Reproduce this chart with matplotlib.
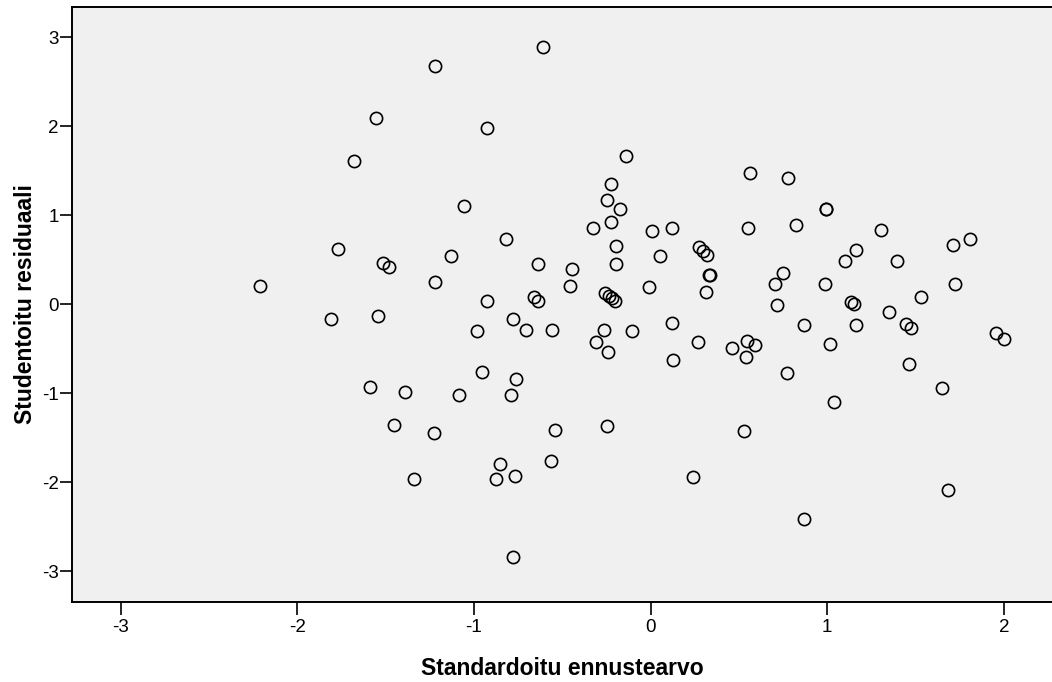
import matplotlib
matplotlib.use("Agg")
import matplotlib.pyplot as plt

# Standardised predicted value (x) and studentised residual (y)
pred = [-1.555, -1.677, -1.768, -1.517, -1.481, -2.209, -1.809, -1.541,
        -1.587, -1.389, -1.455, -1.340,
        -1.222, -0.608, -0.928, -0.142, 0.563, -0.226, -0.249, -0.172,
        -1.055, -0.226, -0.325, 0.007, 0.121, 0.550, -0.821, -0.195,
        -1.130, 0.051, -0.198, -0.640, 0.273, 0.296, 0.320, 0.332, 0.335,
        0.315, -0.444, -0.458, -1.222, -0.928, -0.660, -0.636, -0.259,
        -0.234, -0.217, -0.200, -0.008, -0.781,
        0.775, 0.990, 0.994, 0.822, 1.303, 1.713, 1.809, 1.162, 1.100,
        1.396, 0.749, 0.702, 0.985, 1.724, 1.532, 1.133, 1.152, 0.713,
        1.347,
        0.868, 1.164, 1.443, 1.475, 1.954, 1.998, 0.543, 0.589, 0.539,
        1.017, 0.773, 1.462, 1.649, 1.036, 0.530, 1.683, 0.869,
        -0.983, -0.704, -0.560, -0.264, -0.311, -0.243, -0.108, 0.119,
        0.268, 0.125, 0.460, -0.953, -0.762, -0.792, -1.085, -1.225,
        -0.543, -0.247, -0.851, -0.875, -0.768, -0.562, 0.241, -0.778]
resid = [2.09, 1.61, 0.625, 0.46, 0.416, 0.209, -0.17, -0.13,
         -0.933, -0.99, -1.357, -1.967,
         2.68, 2.889, 1.982, 1.667, 1.476, 1.352, 1.173, 1.068,
         1.105, 0.929, 0.861, 0.82, 0.858, 0.858, 0.731, 0.659,
         0.543, 0.543, 0.457, 0.457, 0.64, 0.60, 0.554, 0.326, 0.33,
         0.138, 0.393, 0.209, 0.254, 0.037, 0.079, 0.037, 0.13,
         0.093, 0.067, 0.04, 0.194, -0.17,
         1.416, 1.071, 1.075, 0.888, 0.832, 0.663, 0.738, 0.61, 0.487,
         0.487, 0.355, 0.225, 0.232, 0.228, 0.079, 0.022, 0.0, -0.008,
         -0.083,
         -0.233, -0.236, -0.221, -0.263, -0.326, -0.393, -0.409, -0.454, -0.596,
         -0.443, -0.769, -0.675, -0.941, -1.102, -1.424, -2.084, -2.414,
         -0.304, -0.289, -0.289, -0.289, -0.427, -0.54, -0.297, -0.207,
         -0.42, -0.63, -0.488, -0.764, -0.836, -1.023, -1.02, -1.45,
         -1.41, -1.365, -1.795, -1.967, -1.927, -1.762, -1.945, -2.841]

xticks = [-3, -2, -1, 0, 1, 2]
yticks = [-3, -2, -1, 0, 1, 2, 3]
xlabel = "Standardoitu ennustearvo"
ylabel = "Studentoitu residuaali"

plt.rcParams['font.family'] = ['Liberation Sans', 'DejaVu Sans']

fig = plt.figure(figsize=(10.52, 6.82), dpi=100)
ax = fig.add_axes([72 / 1052, 80 / 682, 980 / 1052, 595 / 682])
ax.set_facecolor('#f0f0f0')

ax.plot(pred, resid, linestyle='none', marker='o', markersize=8.8,
        markerfacecolor='none', markeredgecolor='black', markeredgewidth=1.2)

ax.set_xlim(-3.275, 2.272)
ax.set_ylim(-3.347, 3.342)
ax.set_xticks(xticks)
ax.set_yticks(yticks)
ax.set_xticklabels([str(t) for t in xticks])
ax.set_yticklabels([str(t) for t in yticks])
ax.tick_params(axis='x', direction='out', length=9, width=1.2, labelsize=13.5,
               colors='black', pad=3.5)
ax.tick_params(axis='y', direction='out', length=8.6, width=1.2, labelsize=13.5,
               colors='black', pad=0.8)

for s in ax.spines.values():
    s.set_linewidth(1.4)
    s.set_color('black')
ax.spines['right'].set_visible(False)

ax.set_xlabel(xlabel, fontsize=16.5, fontweight='bold')
ax.set_ylabel(ylabel, fontsize=16.5, fontweight='bold')
ax.xaxis.set_label_coords(0.5, -0.093)
ax.yaxis.set_label_coords(-0.036, 0.5)

fig.savefig('out.png', dpi=100)
